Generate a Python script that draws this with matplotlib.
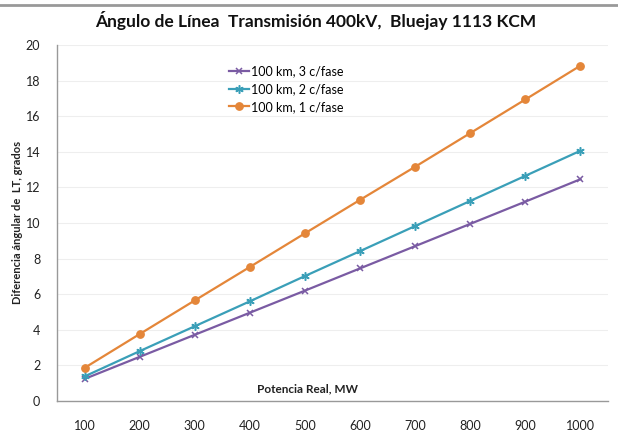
import matplotlib
matplotlib.use("Agg")
import matplotlib.pyplot as plt
from matplotlib.lines import Line2D

potencia = ["100", "200", "300", "400", "500", "600", "700", "800", "900", "1000"]
tres_c = [1.24, 2.48, 3.72, 4.96, 6.2, 7.45, 8.7, 9.95, 11.2, 12.46]
dos_c = [1.38, 2.8, 4.2, 5.6, 7.02, 8.42, 9.83, 11.24, 12.65, 14.06]
uno_c = [1.86, 3.76, 5.65, 7.53, 9.42, 11.3, 13.16, 15.05, 16.94, 18.84]
yticks = [0, 2, 4, 6, 8, 10, 12, 14, 16, 18, 20]

plt.rcParams['font.family'] = ['Lato', 'DejaVu Sans']

purple = '#7a5ba3'
teal = '#3a9fb8'
orange = '#e48639'

fig = plt.figure(figsize=(6.18, 4.34), dpi=100)
ax = fig.add_axes([57 / 618, 1 - 401 / 434, 551 / 618, 356 / 434])

x = range(len(potencia))
ax.plot(x, tres_c, color=purple, lw=1.6, marker='x', ms=5, mew=1.1, label='100 km, 3 c/fase')
ax.plot(x, dos_c, color=teal, lw=1.6, marker=(6, 2, 0), ms=6, mew=1.1, label='100 km, 2 c/fase')
ax.plot(x, uno_c, color=orange, lw=1.6, marker='o', ms=5.3, label='100 km, 1 c/fase')

ax.set_xlim(-0.5, len(potencia) - 0.5)
ax.set_ylim(0, 20)
ax.set_yticks(yticks)
ax.set_xticks(list(x))
ax.set_xticklabels(potencia)
ax.tick_params(axis='both', length=0, labelsize=9, colors='#222222')
ax.tick_params(axis='x', pad=14)
ax.tick_params(axis='y', pad=12)
ax.grid(axis='y', color='#eeeeee', lw=0.8)
ax.set_axisbelow(True)
for s in ['top', 'right']:
    ax.spines[s].set_visible(False)
for s in ['left', 'bottom']:
    ax.spines[s].set_color('#999999')
    ax.spines[s].set_linewidth(1.0)

ax.text(0.455, 0.035, 'Potencia Real, MW', transform=ax.transAxes, ha='center', va='center',
        fontsize=8.5, fontweight='bold', color='#222222')
fig.text(18 / 618, 1 - 222 / 434, 'Diferencia ángular de  LT, grados', rotation=90,
         ha='center', va='center', fontsize=8, fontweight='bold', color='#222222')
fig.text(316 / 618, 1 - 21 / 434, 'Ángulo de Línea  Transmisión 400kV,  Bluejay 1113 KCM',
         ha='center', va='center', fontsize=12.5, fontweight='bold', color='#111111')

leg = ax.legend(loc='upper left', bbox_to_anchor=(0.30, 0.96), frameon=False, fontsize=9,
                handlelength=1.6, handletextpad=0.2, labelspacing=0.45, borderpad=0)

fig.add_artist(Line2D([0, 1], [1 - 5 / 434, 1 - 5 / 434], color='#999999', lw=2))

fig.savefig('out.png', dpi=100)
